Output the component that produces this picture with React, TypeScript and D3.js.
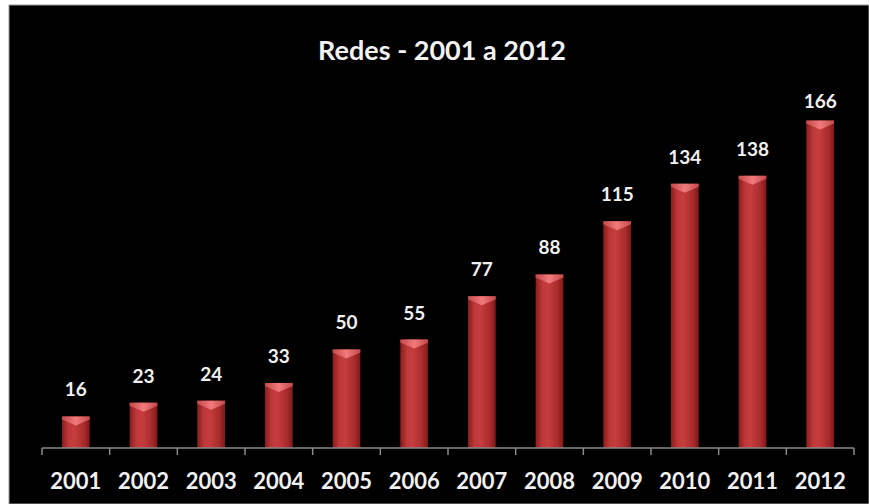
import React from "react";
import * as d3 from "d3";

const years = ["2001","2002","2003","2004","2005","2006","2007","2008","2009","2010","2011","2012"];
const values = [16, 23, 24, 33, 50, 55, 77, 88, 115, 134, 138, 166];
const title = "Redes - 2001 a 2012";

export default function App() {
  const W = 869, H = 504;
  const x0 = 42, x1 = 854, baseY = 448;
  const x = d3.scaleBand<string>().domain(years).range([x0, x1]).paddingInner(0.59).paddingOuter(0.295);
  const y = d3.scaleLinear().domain([0, 180]).range([baseY, 93]);
  const band = (x1 - x0) / years.length;
  const bw = x.bandwidth();
  const font = "Lato, 'Open Sans', sans-serif";
  return (
    <svg width={W} height={H} style={{ position: "absolute", left: 0, top: 0 }}>
      <defs>
        <linearGradient id="barG" x1="0" x2="1" y1="0" y2="0">
          <stop offset="0" stopColor="#8a1c1c" />
          <stop offset="0.25" stopColor="#c0393a" />
          <stop offset="0.45" stopColor="#c53d3d" />
          <stop offset="0.8" stopColor="#a82b2b" />
          <stop offset="1" stopColor="#7e1818" />
        </linearGradient>
        <linearGradient id="capG" x1="0" x2="1" y1="0" y2="0">
          <stop offset="0" stopColor="#c24a4a" />
          <stop offset="0.5" stopColor="#f27a7c" />
          <stop offset="1" stopColor="#c24a4a" />
        </linearGradient>
      </defs>
      <rect x={0} y={0} width={W} height={H} fill="#ffffff" />
      <rect x={9} y={5} width={W - 9} height={H - 5} fill="#000000" stroke="#9a9a9a" strokeWidth={1} />
      <text x={442} y={60} textAnchor="middle" fill="#f2f2f2" fontFamily={font} fontWeight="bold" fontSize={27}>{title}</text>
      {years.map((yr, i) => {
        const bx = x(yr)!;
        const top = y(values[i]);
        const capH = 9;
        return (
          <g key={yr}>
            <rect x={bx} y={top} width={bw} height={baseY - top} fill="url(#barG)" />
            <path d={`M${bx},${top} L${bx + bw},${top} L${bx + bw},${top + 3} L${bx + bw / 2},${top + capH} L${bx},${top + 3} Z`} fill="url(#capG)" />
            <text x={bx + bw / 2} y={Math.max(top - 20, 108)} textAnchor="middle" fill="#f0f0f0" fontFamily={font} fontWeight="bold" fontSize={19}>{values[i]}</text>
          </g>
        );
      })}
      <line x1={x0} x2={x1} y1={baseY} y2={baseY} stroke="#8a8a8a" strokeWidth={1.5} />
      {d3.range(years.length + 1).map(i => (
        <line key={i} x1={x0 + i * band} x2={x0 + i * band} y1={baseY} y2={baseY + 7} stroke="#8a8a8a" strokeWidth={1.5} />
      ))}
      {years.map(yr => (
        <text key={yr} x={x(yr)! + bw / 2} y={489} textAnchor="middle" fill="#f0f0f0" fontFamily={font} fontWeight="bold" fontSize={22}>{yr}</text>
      ))}
    </svg>
  );
}
